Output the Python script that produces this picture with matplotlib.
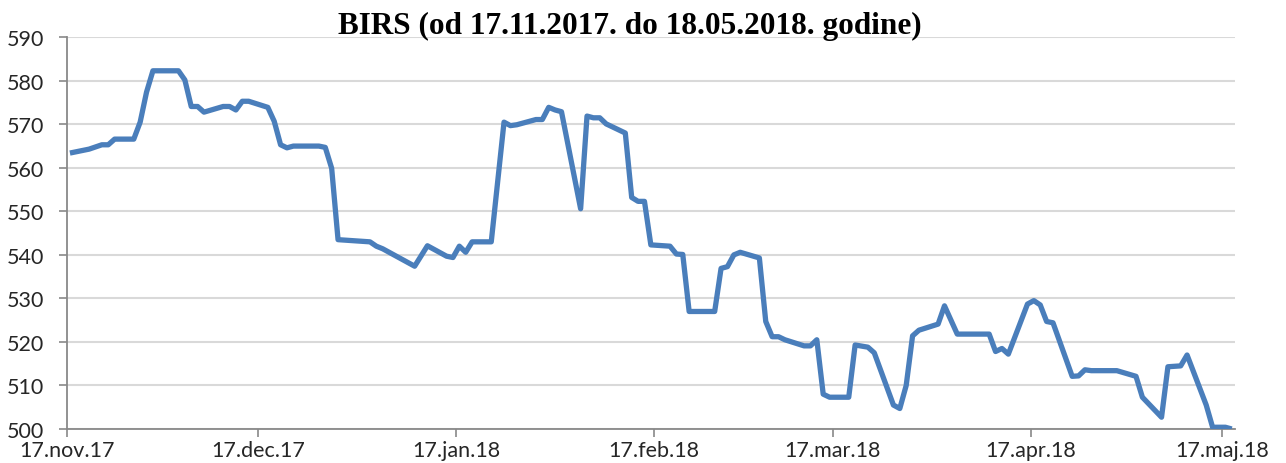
import numpy as np
import pandas as pd
import matplotlib
matplotlib.use("Agg")
import matplotlib.pyplot as plt

# trading days and closing prices
dates = ["2017-11-17", "2017-11-20", "2017-11-22", "2017-11-23", "2017-11-24",
         "2017-11-27", "2017-11-28", "2017-11-29", "2017-11-30", "2017-12-04",
         "2017-12-05", "2017-12-06", "2017-12-07", "2017-12-08", "2017-12-11",
         "2017-12-12", "2017-12-13", "2017-12-14", "2017-12-15", "2017-12-18",
         "2017-12-19", "2017-12-20", "2017-12-21", "2017-12-22", "2017-12-26",
         "2017-12-27", "2017-12-28", "2017-12-29", "2018-01-03", "2018-01-04",
         "2018-01-05", "2018-01-10", "2018-01-12", "2018-01-15", "2018-01-16",
         "2018-01-17", "2018-01-18", "2018-01-19", "2018-01-22", "2018-01-24",
         "2018-01-25", "2018-01-26", "2018-01-29", "2018-01-30", "2018-01-31",
         "2018-02-01", "2018-02-02", "2018-02-05", "2018-02-06", "2018-02-07",
         "2018-02-08", "2018-02-09", "2018-02-12", "2018-02-13", "2018-02-14",
         "2018-02-15", "2018-02-16", "2018-02-19", "2018-02-20", "2018-02-21",
         "2018-02-22", "2018-02-26", "2018-02-27", "2018-02-28", "2018-03-01",
         "2018-03-02", "2018-03-05", "2018-03-06", "2018-03-07", "2018-03-08",
         "2018-03-09", "2018-03-12", "2018-03-13", "2018-03-14", "2018-03-15",
         "2018-03-16", "2018-03-19", "2018-03-20", "2018-03-22", "2018-03-23",
         "2018-03-26", "2018-03-27", "2018-03-28", "2018-03-29", "2018-03-30",
         "2018-04-02", "2018-04-03", "2018-04-05", "2018-04-10", "2018-04-11",
         "2018-04-12", "2018-04-13", "2018-04-16", "2018-04-17", "2018-04-18",
         "2018-04-19", "2018-04-20", "2018-04-23", "2018-04-24", "2018-04-25",
         "2018-04-26", "2018-04-30", "2018-05-03", "2018-05-04", "2018-05-07",
         "2018-05-08", "2018-05-10", "2018-05-11", "2018-05-14", "2018-05-15",
         "2018-05-17", "2018-05-18"]

prices = [563.4, 564.3, 565.3, 565.3, 566.6,
          566.6, 570.5, 577.4, 582.3, 582.3,
          580.2, 574.1, 574.1, 572.8, 574.1,
          574.1, 573.3, 575.3, 575.3, 573.9,
          570.7, 565.3, 564.6, 565.0, 565.0,
          564.7, 559.9, 543.5, 543.0, 542.0,
          541.4, 537.4, 542.1, 539.7, 539.4,
          542.0, 540.6, 543.0, 543.0, 570.5,
          569.7, 569.9, 571.1, 571.1, 573.9,
          573.3, 572.9, 550.6, 571.9, 571.5,
          571.5, 570.1, 568.0, 553.2, 552.3,
          552.3, 542.3, 542.0, 540.2, 540.1,
          527.0, 527.0, 536.9, 537.3, 540.0,
          540.6, 539.3, 524.7, 521.2, 521.2,
          520.5, 519.1, 519.1, 520.5, 508.0,
          507.3, 507.3, 519.3, 518.8, 517.5,
          505.5, 504.7, 510.0, 521.4, 522.7,
          524.1, 528.3, 521.8, 521.8, 517.8,
          518.5, 517.2, 528.7, 529.5, 528.5,
          524.7, 524.4, 512.1, 512.2, 513.6,
          513.4, 513.4, 512.1, 507.3, 502.7,
          514.3, 514.5, 517.0, 505.5, 500.4,
          500.4, 500.0]

tick_dates = ["2017-11-17", "2017-12-17", "2018-01-17", "2018-02-17",
              "2018-03-17", "2018-04-17", "2018-05-17"]
tick_labels = ["17.nov.17", "17.dec.17", "17.jan.18", "17.feb.18",
               "17.mar.18", "17.apr.18", "17.maj.18"]

title = "BIRS (od 17.11.2017. do 18.05.2018. godine)"

# points sit in the middle of each day slot (like Excel's date axis)
x = pd.to_datetime(dates) + pd.Timedelta(hours=12)

fig = plt.figure(figsize=(12.86, 4.64), dpi=100)
ax = fig.add_axes([0.0519, 0.0733, 0.9084, 0.8442])

ax.plot(x, prices, color="#4A7EBB", linewidth=3.8, solid_joinstyle="round",
        solid_capstyle="butt", zorder=3)

ax.set_xlim(pd.Timestamp("2017-11-17"), pd.Timestamp("2018-05-19"))
ax.set_ylim(500, 590)
ax.set_yticks(np.arange(500, 591, 10))
ax.set_xticks(pd.to_datetime(tick_dates))
ax.set_xticklabels(tick_labels)

ax.grid(axis="y", color="#D9D9D9", linewidth=1.5, zorder=0)
for side in ["top", "right"]:
    ax.spines[side].set_visible(False)
for side in ["left", "bottom"]:
    ax.spines[side].set_color("#898989")
    ax.spines[side].set_linewidth(1.3)

ax.tick_params(axis="both", colors="#898989", labelcolor="#262626",
               labelsize=15.5, length=6, width=1.2, direction="out")
ax.tick_params(axis="x", pad=2)
ax.tick_params(axis="y", pad=10)
for lbl in ax.get_xticklabels() + ax.get_yticklabels():
    lbl.set_fontfamily("Lato")

fig.text(0.49, 0.912, title, ha="center", va="bottom", fontsize=22.5,
         fontweight="bold", fontfamily="Liberation Serif", color="black")

fig.savefig("out.png", dpi=100)
